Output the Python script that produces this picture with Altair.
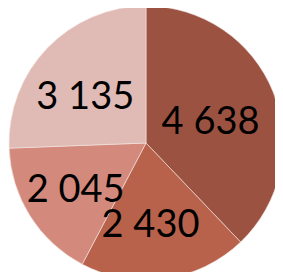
import altair as alt
import pandas as pd

values = [4638, 2430, 2045, 3135]
labels = ["4 638", "2 430", "2 045", "3 135"]
colors = ["#9C5241", "#B8624C", "#D38A7D", "#E0BBB5"]

df = pd.DataFrame({
    "value": values,
    "label": labels,
    "order": list(range(len(values))),
})

base = alt.Chart(df).encode(
    theta=alt.Theta("value:Q", stack=True),
    order=alt.Order("order:Q"),
)

pie = base.mark_arc(radius=137, stroke="#f4e6e2", strokeWidth=0.6).encode(
    color=alt.Color("label:N", scale=alt.Scale(domain=labels, range=colors), legend=None),
    x=alt.value(138), y=alt.value(135),
)

text = base.mark_text(radius=76, fontSize=38, font="Lato", color="#000000").encode(
    text="label:N",
    x=alt.value(132), y=alt.value(143),
)

chart = (pie + text).properties(
    width=267, height=264, padding=0, autosize="none"
).configure_view(stroke=None)

chart.save("out.html", embed_options={"renderer": "svg", "actions": False})
